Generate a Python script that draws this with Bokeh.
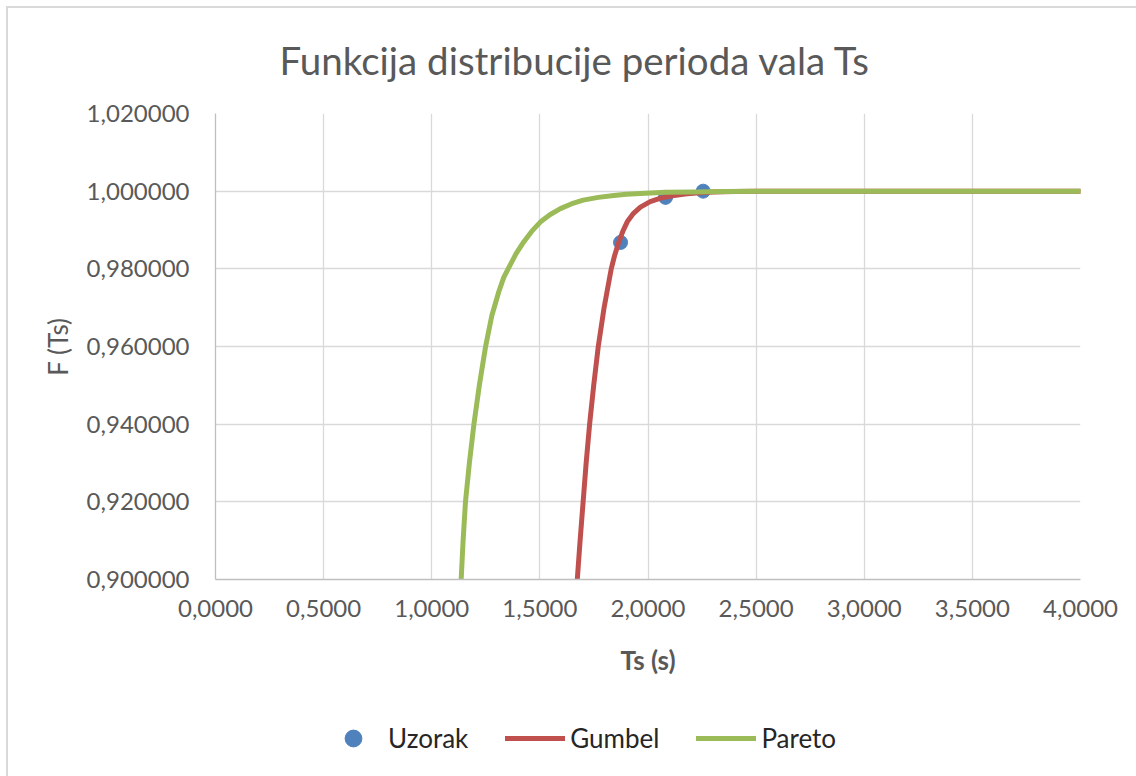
from bokeh.plotting import figure
from bokeh.layouts import column
from bokeh.models import (Range1d, FixedTicker, CustomJSTickFormatter,
                          Legend, LegendItem)
from bokeh.embed import file_html
from bokeh.resources import INLINE

# ---- data ----
uzorak_ts = [1.873, 2.081, 2.255]
uzorak_f = [0.9868, 0.9984, 1.0000]

gumbel_ts = [1.673, 1.686, 1.700, 1.714, 1.730, 1.749, 1.770, 1.797, 1.830,
             1.846, 1.865, 1.884, 1.904, 1.933, 1.965, 2.010, 2.058, 2.120,
             2.181, 2.240, 2.303, 2.400, 2.500, 3.000, 3.500, 4.000]
gumbel_f = [0.9000, 0.9100, 0.9200, 0.9300, 0.9400, 0.9500, 0.9600, 0.9700,
            0.9800, 0.9835, 0.9869, 0.9897, 0.9921, 0.9943, 0.9959, 0.9973,
            0.9982, 0.9989, 0.9993, 0.9996, 0.9998, 0.99993, 1.0000, 1.0000,
            1.0000, 1.0000]

pareto_ts = [1.136, 1.145, 1.156, 1.174, 1.195, 1.220, 1.249, 1.278, 1.310,
             1.333, 1.358, 1.390, 1.426, 1.463, 1.503, 1.548, 1.595, 1.645,
             1.700, 1.770, 1.842, 1.900, 1.965, 2.080, 2.212, 2.350, 2.500,
             3.000, 3.500, 4.000]
pareto_f = [0.9000, 0.9100, 0.9200, 0.9300, 0.9400, 0.9500, 0.9600, 0.9680,
            0.9741, 0.9778, 0.9805, 0.9839, 0.9870, 0.9897, 0.9921, 0.9940,
            0.9955, 0.9967, 0.9977, 0.9984, 0.9989, 0.9992, 0.9994, 0.9997,
            0.9998, 0.99993, 0.99997, 1.0000, 1.0000, 1.0000]

x_ticks = [0.0, 0.5, 1.0, 1.5, 2.0, 2.5, 3.0, 3.5, 4.0]
y_ticks = [0.90, 0.92, 0.94, 0.96, 0.98, 1.00, 1.02]

title_text = "Funkcija distribucije perioda vala Ts"
x_label = "Ts (s)"
y_label = "F (Ts)"
series_names = ["Uzorak", "Gumbel", "Pareto"]
series_colors = ["#4f81bd", "#c0504d", "#9bbb59"]

FONT = "Lato"
GRAY = "#595959"
W = 1128
LW = 5

# ---------------- main chart ----------------
p = figure(width=W, height=690, output_backend="svg", toolbar_location=None,
           x_range=Range1d(0, 4), y_range=Range1d(0.9, 1.02),
           min_border_left=207, min_border_right=56,
           min_border_top=103, min_border_bottom=119)
p.outline_line_color = None
p.background_fill_color = "white"
p.border_fill_color = "white"

p.title.text = title_text
p.title.align = "left"
p.title.offset = 64
p.title.standoff = 57
p.title.vertical_align = "top"
p.title.text_font = FONT
p.title.text_font_size = "38.5px"
p.title.text_font_style = "normal"
p.title.text_color = GRAY

for ax in (p.xaxis[0], p.yaxis[0]):
    ax.major_tick_line_color = None
    ax.minor_tick_line_color = None
    ax.axis_line_color = "#bfbfbf"
    ax.axis_line_width = 1.3
    ax.major_label_text_font = FONT
    ax.major_label_text_font_size = "24px"
    ax.major_label_text_color = GRAY
    ax.axis_label_text_font = FONT
    ax.axis_label_text_color = GRAY

p.xaxis.ticker = FixedTicker(ticks=x_ticks)
p.yaxis.ticker = FixedTicker(ticks=y_ticks)
p.xaxis.formatter = CustomJSTickFormatter(code="return tick.toFixed(4).replace('.', ',');")
p.yaxis.formatter = CustomJSTickFormatter(code="return tick.toFixed(6).replace('.', ',');")
p.xaxis.major_label_standoff = 14
p.yaxis.major_label_standoff = 20
p.xaxis.axis_label = x_label
p.xaxis.axis_label_text_font_style = "bold"
p.xaxis.axis_label_text_font_size = "26px"
p.xaxis.axis_label_standoff = 24
p.yaxis.axis_label = y_label
p.yaxis.axis_label_text_font_style = "normal"
p.yaxis.axis_label_text_font_size = "26px"
p.yaxis.axis_label_standoff = 10

p.grid.grid_line_color = "#d9d9d9"
p.grid.grid_line_width = 1.3

p.scatter(uzorak_ts, uzorak_f, size=14, color=series_colors[0])
p.line(gumbel_ts, gumbel_f, line_width=LW, color=series_colors[1],
       line_cap="round", line_join="round")
p.line(pareto_ts, pareto_f, line_width=LW, color=series_colors[2],
       line_cap="round", line_join="round")

# ---------------- legend strip below the chart ----------------
# (its frame is aligned with the chart frame by the column layout; the series
#  fall outside its 0..1 ranges, so only the legend itself is visible)
pl = figure(width=W, height=78, output_backend="svg", toolbar_location=None,
            x_range=Range1d(0, 1), y_range=Range1d(0, 1),
            x_axis_type=None, y_axis_type=None,
            min_border_left=0, min_border_right=0,
            min_border_top=0, min_border_bottom=0)
pl.outline_line_color = None
pl.background_fill_color = "white"
pl.border_fill_color = "white"

l_u = pl.scatter(uzorak_ts, uzorak_f, size=14, color=series_colors[0])
l_g = pl.line(gumbel_ts, gumbel_f, line_width=LW, color=series_colors[1],
              line_cap="round")
l_p = pl.line(pareto_ts, pareto_f, line_width=LW, color=series_colors[2],
              line_cap="round")

legend = Legend(items=[LegendItem(label=series_names[0], renderers=[l_u]),
                       LegendItem(label=series_names[1], renderers=[l_g]),
                       LegendItem(label=series_names[2], renderers=[l_p])],
                orientation="horizontal", location=(108, 17),
                glyph_width=60, glyph_height=42, label_standoff=5, spacing=37,
                label_text_font=FONT, label_text_font_size="26px",
                label_text_color="#262626", background_fill_alpha=0,
                border_line_color=None, padding=0, margin=0)
pl.add_layout(legend, "center")

page = column(p, pl, spacing=0)
page.styles = {"margin-left": "6px", "margin-top": "6px",
               "border-left": "2px solid #d9d9d9", "border-top": "2px solid #d9d9d9"}

open("out.html", "w").write(file_html(page, INLINE))
